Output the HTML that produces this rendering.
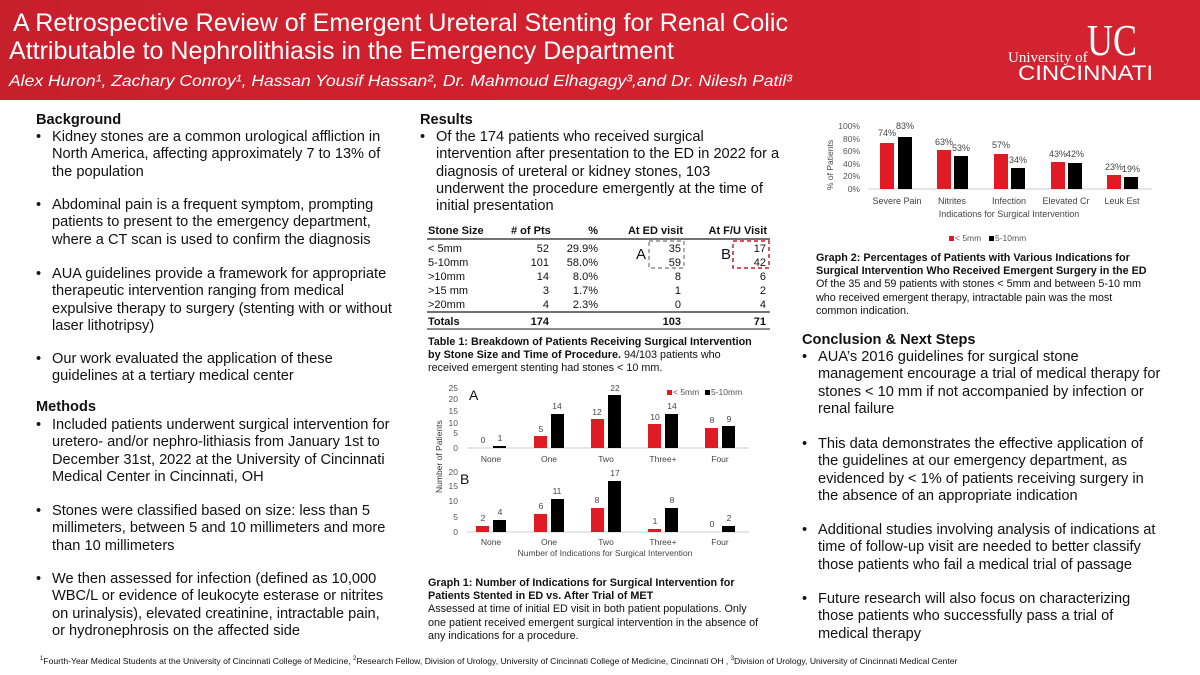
<!DOCTYPE html>
<html><head><meta charset="utf-8"><style>
*{margin:0;padding:0}
body{width:1200px;height:675px;position:relative;overflow:hidden;background:#fff;font-family:"Liberation Sans",Arial,sans-serif;color:#111}
.hdr{position:absolute;left:0;top:0;width:1200px;height:100px;background:linear-gradient(90deg,#c81f2d 0%,#d0202e 30%,#d42330 100%)}
.t{position:absolute;font-size:14.6px;line-height:17.35px;white-space:nowrap}
.h{font-weight:bold}
.b{position:absolute;font-size:14.6px;line-height:17.35px;padding-left:16px;white-space:nowrap}
.b:before{content:"•";position:absolute;left:0}
.s{position:absolute;font-size:10.8px;line-height:13.2px;white-space:nowrap}
</style></head><body>
<div class="hdr"></div>
<svg style="position:absolute;left:0;top:0" width="1200" height="100">
<text x="13" y="31" fill="#fff" font-size="25" textLength="775" lengthAdjust="spacingAndGlyphs" font-family="Liberation Sans">A Retrospective Review of Emergent Ureteral Stenting for Renal Colic</text>
<text x="9" y="59" fill="#fff" font-size="25" textLength="665" lengthAdjust="spacingAndGlyphs" font-family="Liberation Sans">Attributable to Nephrolithiasis in the Emergency Department</text>
<text x="9" y="86" fill="#fff" font-size="16" font-style="italic" textLength="783" lengthAdjust="spacingAndGlyphs" font-family="Liberation Sans">Alex Huron¹, Zachary Conroy¹, Hassan Yousif Hassan², Dr. Mahmoud Elhagagy³,and Dr. Nilesh Patil³</text>
<text x="1008" y="62" fill="#fff" font-size="15" font-family="Liberation Serif">University of</text>
<text x="1018" y="80" fill="#fff" font-size="21" textLength="135" lengthAdjust="spacingAndGlyphs" font-family="Liberation Sans">CINCINNATI</text>
<text x="1087" y="55" fill="#fff" font-size="44" font-family="Liberation Serif" textLength="50" lengthAdjust="spacingAndGlyphs">UC</text>
</svg>

<div class="t h" style="left:36px;top:112px">Background</div>
<div class="b" style="left:36px;top:129px">Kidney stones are a common urological affliction in<br>North America, affecting approximately 7 to 13% of<br>the population</div>
<div class="b" style="left:36px;top:197px">Abdominal pain is a frequent symptom, prompting<br>patients to present to the emergency department,<br>where a CT scan is used to confirm the diagnosis</div>
<div class="b" style="left:36px;top:266px">AUA guidelines provide a framework for appropriate<br>therapeutic intervention ranging from medical<br>expulsive therapy to surgery (stenting with or without<br>laser lithotripsy)</div>
<div class="b" style="left:36px;top:351px">Our work evaluated the application of these<br>guidelines at a tertiary medical center</div>
<div class="t h" style="left:36px;top:399px">Methods</div>
<div class="b" style="left:36px;top:417px">Included patients underwent surgical intervention for<br>uretero- and/or nephro-lithiasis from January 1st to<br>December 31st, 2022 at the University of Cincinnati<br>Medical Center in Cincinnati, OH</div>
<div class="b" style="left:36px;top:503px">Stones were classified based on size: less than 5<br>millimeters, between 5 and 10 millimeters and more<br>than 10 millimeters</div>
<div class="b" style="left:36px;top:571px">We then assessed for infection (defined as 10,000<br>WBC/L or evidence of leukocyte esterase or nitrites<br>on urinalysis), elevated creatinine, intractable pain,<br>or hydronephrosis on the affected side</div>

<div class="t h" style="left:420px;top:112px">Results</div>
<div class="b" style="left:420px;top:129px">Of the 174 patients who received surgical<br>intervention after presentation to the ED in 2022 for a<br>diagnosis of ureteral or kidney stones, 103<br>underwent the procedure emergently at the time of<br>initial presentation</div>

<svg style="position:absolute;left:415px;top:215px" width="370" height="115" font-family="Liberation Sans" font-size="11" fill="#111">
<g font-weight="bold"><text x="13" y="19">Stone Size</text><text x="96" y="19">#  of Pts</text><text x="183" y="19" text-anchor="end">%</text><text x="268" y="19" text-anchor="end">At ED visit</text><text x="352" y="19" text-anchor="end">At F/U Visit</text></g>
<line x1="12" y1="24" x2="355" y2="24" stroke="#444" stroke-width="1.5"/>
<g><text x="13" y="37">&lt; 5mm</text><text x="13" y="51">5-10mm</text><text x="13" y="65">&gt;10mm</text><text x="13" y="79">&gt;15 mm</text><text x="13" y="93">&gt;20mm</text></g>
<g text-anchor="end"><text x="134" y="37">52</text><text x="134" y="51">101</text><text x="134" y="65">14</text><text x="134" y="79">3</text><text x="134" y="93">4</text>
<text x="183" y="37">29.9%</text><text x="183" y="51">58.0%</text><text x="183" y="65">8.0%</text><text x="183" y="79">1.7%</text><text x="183" y="93">2.3%</text>
<text x="266" y="37">35</text><text x="266" y="51">59</text><text x="266" y="65">8</text><text x="266" y="79">1</text><text x="266" y="93">0</text>
<text x="351" y="37">17</text><text x="351" y="51">42</text><text x="351" y="65">6</text><text x="351" y="79">2</text><text x="351" y="93">4</text></g>
<text x="221" y="44" font-size="15">A</text><text x="306" y="44" font-size="15">B</text>
<rect x="234" y="26" width="35" height="27" fill="none" stroke="#777" stroke-dasharray="4,3" stroke-width="1.2"/>
<rect x="318" y="26" width="36" height="27" fill="none" stroke="#c81f2d" stroke-dasharray="4,3" stroke-width="1.5"/>
<line x1="12" y1="97" x2="355" y2="97" stroke="#444" stroke-width="1.5"/>
<g font-weight="bold"><text x="13" y="110">Totals</text><text x="134" y="110" text-anchor="end">174</text><text x="266" y="110" text-anchor="end">103</text><text x="351" y="110" text-anchor="end">71</text></g>
<line x1="12" y1="114" x2="355" y2="114" stroke="#444" stroke-width="1.2"/>
</svg>
<div class="s" style="left:428px;top:336px"><b>Table 1: Breakdown of Patients Receiving Surgical Intervention<br>by Stone Size and Time of Procedure.</b> 94/103 patients who<br>received emergent stenting had stones &lt; 10 mm.</div>

<svg style="position:absolute;left:415px;top:380px" width="370" height="180" font-family="Liberation Sans" font-size="8.5" fill="#555">
<!-- A axis -->
<g text-anchor="end"><text x="43" y="71">0</text><text x="43" y="56">5</text><text x="43" y="46">10</text><text x="43" y="34">15</text><text x="43" y="22">20</text><text x="43" y="11">25</text></g>
<line x1="52" y1="68" x2="334" y2="68" stroke="#ccc"/>
<text x="54" y="20" font-size="14" fill="#111">A</text>
<g fill="#e01b23"><rect x="61" y="68" width="13" height="0"/><rect x="119" y="56" width="13" height="12"/><rect x="176" y="39" width="13" height="29"/><rect x="233" y="44" width="13" height="24"/><rect x="290" y="48" width="13" height="20"/></g>
<g fill="#000"><rect x="78" y="66" width="13" height="2"/><rect x="136" y="34" width="13" height="34"/><rect x="193" y="15" width="13" height="53"/><rect x="250" y="34" width="13" height="34"/><rect x="307" y="46" width="13" height="22"/></g>
<g text-anchor="middle" fill="#444"><text x="68" y="63">0</text><text x="85" y="61">1</text><text x="126" y="52">5</text><text x="142" y="29">14</text><text x="182" y="35">12</text><text x="200" y="11">22</text><text x="240" y="40">10</text><text x="257" y="29">14</text><text x="297" y="43">8</text><text x="314" y="42">9</text>
<text x="76" y="82">None</text><text x="134" y="82">One</text><text x="191" y="82">Two</text><text x="248" y="82">Three+</text><text x="305" y="82">Four</text></g>
<rect x="252" y="10" width="5" height="5" fill="#e01b23"/><text x="258" y="15">&lt; 5mm</text>
<rect x="290" y="10" width="5" height="5" fill="#000"/><text x="296" y="15">5-10mm</text>
<!-- B axis -->
<g text-anchor="end"><text x="43" y="155">0</text><text x="43" y="140">5</text><text x="43" y="124">10</text><text x="43" y="109">15</text><text x="43" y="95">20</text></g>
<line x1="52" y1="152" x2="334" y2="152" stroke="#ccc"/>
<text x="45" y="104" font-size="14" fill="#111">B</text>
<g fill="#e01b23"><rect x="61" y="146" width="13" height="6"/><rect x="119" y="134" width="13" height="18"/><rect x="176" y="128" width="13" height="24"/><rect x="233" y="149" width="13" height="3"/></g>
<g fill="#000"><rect x="78" y="140" width="13" height="12"/><rect x="136" y="119" width="13" height="33"/><rect x="193" y="101" width="13" height="51"/><rect x="250" y="128" width="13" height="24"/><rect x="307" y="146" width="13" height="6"/></g>
<g text-anchor="middle" fill="#444"><text x="68" y="141">2</text><text x="85" y="135">4</text><text x="126" y="129">6</text><text x="142" y="114">11</text><text x="182" y="123">8</text><text x="200" y="96">17</text><text x="240" y="144">1</text><text x="257" y="123">8</text><text x="297" y="147">0</text><text x="314" y="141">2</text>
<text x="76" y="165">None</text><text x="134" y="165">One</text><text x="191" y="165">Two</text><text x="248" y="165">Three+</text><text x="305" y="165">Four</text>
<text x="190" y="176">Number of Indications for Surgical Intervention</text></g>
<text transform="translate(27,113) rotate(-90)" fill="#333">Number of Patients</text>
</svg>
<div class="s" style="left:428px;top:577px"><b>Graph 1: Number of Indications for Surgical Intervention for<br>Patients Stented in ED vs. After Trial of MET</b><br>Assessed at time of initial ED visit in both patient populations. Only<br>one patient received emergent surgical intervention in the absence of<br>any indications for a procedure.</div>

<svg style="position:absolute;left:800px;top:110px" width="380" height="140" font-family="Liberation Sans" font-size="8.5" fill="#555">
<g text-anchor="end"><text x="60" y="19">100%</text><text x="60" y="32">80%</text><text x="60" y="44">60%</text><text x="60" y="57">40%</text><text x="60" y="69">20%</text><text x="60" y="82">0%</text></g>
<line x1="68" y1="79" x2="352" y2="79" stroke="#ccc"/>
<g fill="#e01b23"><rect x="80" y="33" width="14" height="46"/><rect x="137" y="40" width="14" height="39"/><rect x="194" y="44" width="14" height="35"/><rect x="251" y="52" width="14" height="27"/><rect x="307" y="65" width="14" height="14"/></g>
<g fill="#000"><rect x="98" y="27" width="14" height="52"/><rect x="154" y="46" width="14" height="33"/><rect x="211" y="58" width="14" height="21"/><rect x="268" y="53" width="14" height="26"/><rect x="324" y="67" width="14" height="12"/></g>
<g text-anchor="middle" fill="#444" font-size="9"><text x="87" y="26">74%</text><text x="105" y="19">83%</text><text x="144" y="35">63%</text><text x="161" y="41">53%</text><text x="201" y="38">57%</text><text x="218" y="53">34%</text><text x="258" y="47">43%</text><text x="275" y="47">42%</text><text x="314" y="60">23%</text><text x="331" y="62">19%</text>
<text x="97" y="94">Severe Pain</text><text x="152" y="94">Nitrites</text><text x="209" y="94">Infection</text><text x="266" y="94">Elevated Cr</text><text x="322" y="94">Leuk Est</text>
<text x="209" y="107">Indications for Surgical Intervention</text></g>
<text transform="translate(33,80) rotate(-90)" fill="#444">% of Patients</text>
<rect x="149" y="126" width="5" height="5" fill="#e01b23"/><text x="155" y="131">&lt; 5mm</text>
<rect x="189" y="126" width="5" height="5" fill="#000"/><text x="195" y="131">5-10mm</text>
</svg>
<div class="s" style="left:816px;top:252px"><b>Graph 2: Percentages of Patients with Various Indications for<br>Surgical Intervention Who Received Emergent Surgery in the ED</b><br>Of the 35 and 59 patients with stones &lt; 5mm and between 5-10 mm<br>who received emergent therapy, intractable pain was the most<br>common indication.</div>

<div class="t h" style="left:802px;top:332px">Conclusion &amp; Next Steps</div>
<div class="b" style="left:802px;top:349px">AUA’s 2016 guidelines for surgical stone<br>management encourage a trial of medical therapy for<br>stones &lt; 10 mm if not accompanied by infection or<br>renal failure</div>
<div class="b" style="left:802px;top:436px">This data demonstrates the effective application of<br>the guidelines at our emergency department, as<br>evidenced by &lt; 1% of patients receiving surgery in<br>the absence of an appropriate indication</div>
<div class="b" style="left:802px;top:522px">Additional studies involving analysis of indications at<br>time of follow-up visit are needed to better classify<br>those patients who fail a medical trial of passage</div>
<div class="b" style="left:802px;top:591px">Future research will also focus on characterizing<br>those patients who successfully pass a trial of<br>medical therapy</div>

<div style="position:absolute;left:40px;top:656px;font-size:8.6px;white-space:nowrap;color:#111"><sup style="font-size:6px">1</sup>Fourth-Year Medical Students at the University of Cincinnati College of Medicine, <sup style="font-size:6px">2</sup>Research Fellow, Division of Urology, University of Cincinnati College of Medicine, Cincinnati OH , <sup style="font-size:6px">3</sup>Division of Urology, University of Cincinnati Medical Center</div>
</body></html>
